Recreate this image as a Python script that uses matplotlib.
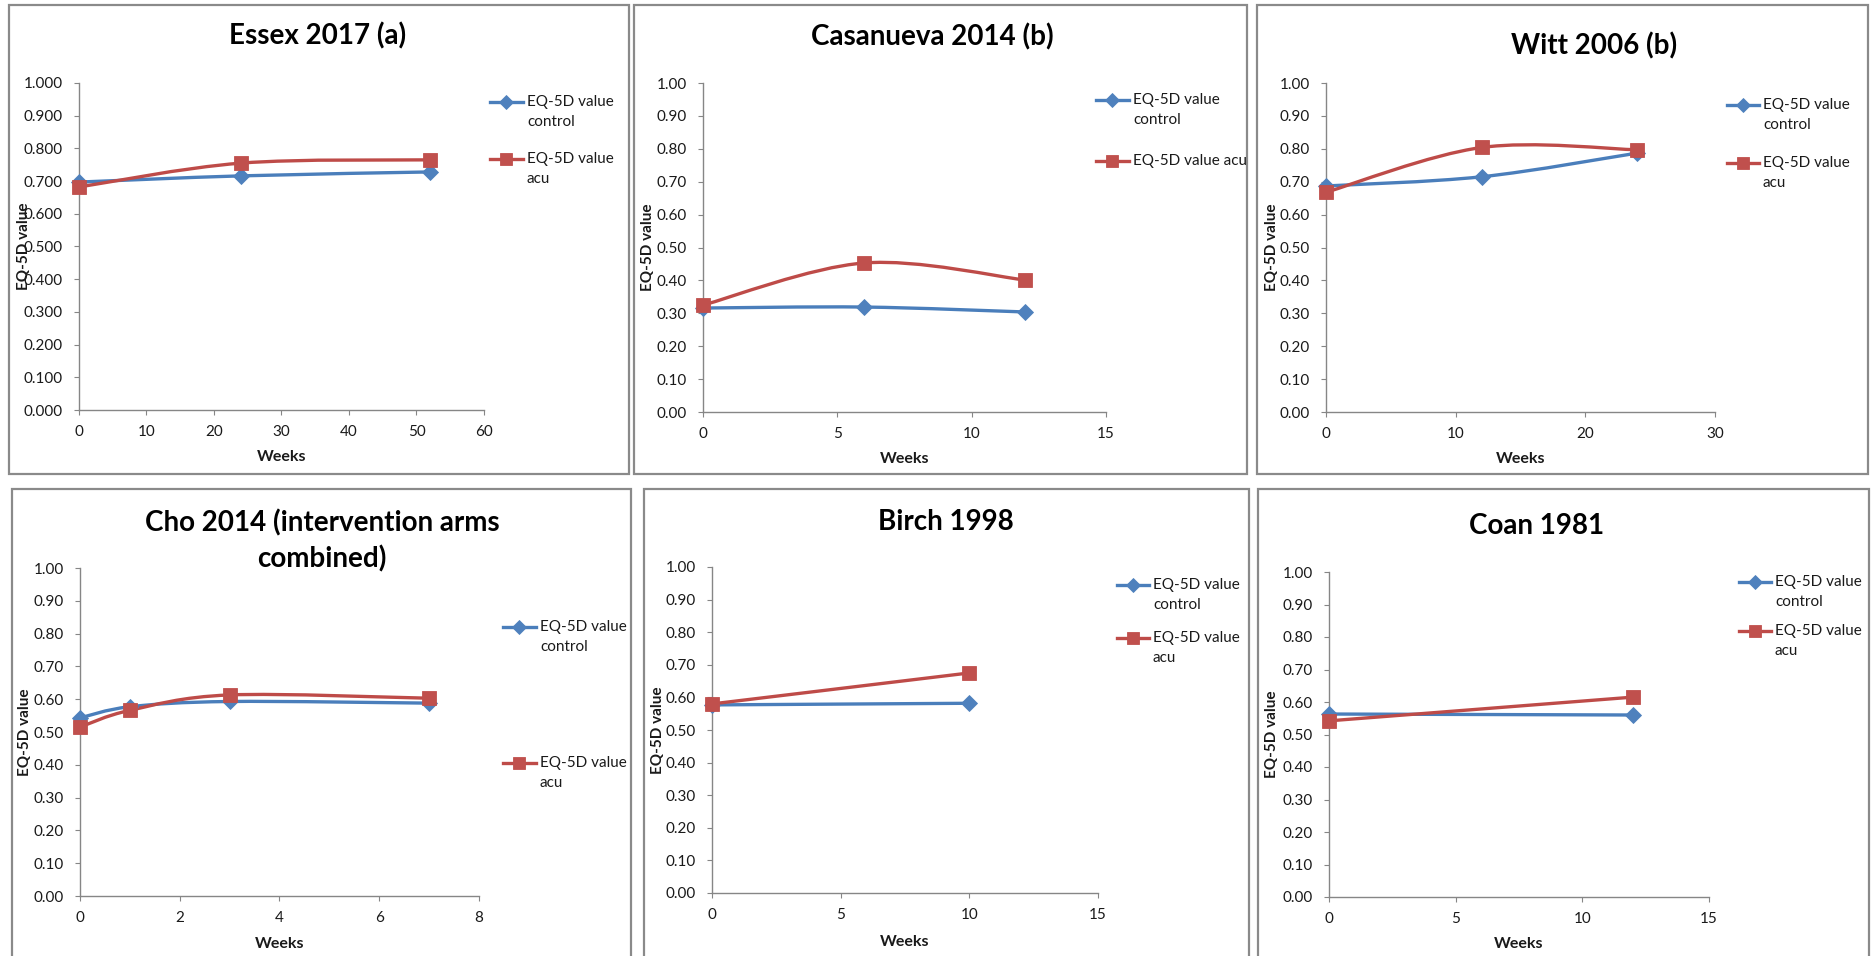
import numpy as np
import matplotlib
matplotlib.use("Agg")
import matplotlib.pyplot as plt
from matplotlib.path import Path
from matplotlib.patches import PathPatch, Rectangle
from matplotlib.lines import Line2D
from matplotlib.ticker import FormatStrFormatter, MultipleLocator

W, H = 1874, 956

# ---- study data (weeks from baseline, EQ-5D value) ----
essex_weeks = [0, 24, 52]
essex_control = [0.697, 0.716, 0.728]
essex_acu = [0.682, 0.755, 0.765]

casanueva_weeks = [0, 6, 12]
casanueva_control = [0.316, 0.319, 0.304]
casanueva_acu = [0.325, 0.453, 0.401]

witt_weeks = [0, 12, 24]
witt_control = [0.687, 0.715, 0.787]
witt_acu = [0.668, 0.804, 0.797]

cho_weeks = [0, 1, 3, 7]
cho_control = [0.543, 0.577, 0.593, 0.588]
cho_acu = [0.515, 0.566, 0.613, 0.603]

birch_weeks = [0, 10]
birch_control = [0.577, 0.582]
birch_acu = [0.580, 0.675]

coan_weeks = [0, 12]
coan_control = [0.563, 0.560]
coan_acu = [0.542, 0.615]

titles = ["Essex 2017 (a)", "Casanueva 2014 (b)", "Witt 2006 (b)",
          ["Cho 2014 (intervention arms", "combined)"], "Birch 1998", "Coan 1981"]
legend_control = ["EQ-5D value", "control"]
legend_acu = ["EQ-5D value", "acu"]
legend_acu_oneline = ["EQ-5D value acu"]
x_label = "Weeks"
y_label = "EQ-5D value"

plt.rcParams['font.family'] = ['Lato', 'DejaVu Sans']

BLUE_LINE, BLUE_MK = '#4A7EBB', '#4F81BD'
RED_LINE, RED_MK = '#BE4B48', '#C0504D'
AXIS_GRAY = '#868686'
BORDER = '#8a8a8a'
TXT = '#1a1a1a'


def fx(x):
    return x / W


def fy(y):
    return 1 - y / H


def smooth_path(xs, ys):
    """Cubic Bezier through the points (Catmull-Rom style tangents)."""
    pts = np.column_stack([xs, ys]).astype(float)
    n = len(pts)
    verts = [pts[0]]
    codes = [Path.MOVETO]
    for i in range(n - 1):
        p0 = pts[i - 1] if i > 0 else pts[i]
        p1, p2 = pts[i], pts[i + 1]
        p3 = pts[i + 2] if i + 2 < n else pts[i + 1]
        verts += [p1 + (p2 - p0) / 6, p2 - (p3 - p1) / 6, p2]
        codes += [Path.CURVE4] * 3
    return Path(verts, codes)


panels = [
    dict(title=titles[0], weeks=essex_weeks, control=essex_control, acu=essex_acu,
         xmax=60, xstep=10, yfmt='%.3f', frame=(9, 5, 629, 474), box=(79, 83, 484, 410),
         title_xy=(318, 36), ylab_x=24, xlab_y=457,
         legend=(490, 527, 102, 159), labels=(legend_control, legend_acu)),
    dict(title=titles[1], weeks=casanueva_weeks, control=casanueva_control, acu=casanueva_acu,
         xmax=15, xstep=5, yfmt='%.2f', frame=(634, 5, 1247, 474), box=(703, 83, 1106, 412),
         title_xy=(932, 37), ylab_x=648, xlab_y=459,
         legend=(1096, 1133, 100, 161), labels=(legend_control, legend_acu_oneline)),
    dict(title=titles[2], weeks=witt_weeks, control=witt_control, acu=witt_acu,
         xmax=30, xstep=10, yfmt='%.2f', frame=(1257, 5, 1868, 474), box=(1326, 83, 1715, 412),
         title_xy=(1594, 46), ylab_x=1272, xlab_y=459,
         legend=(1727, 1763, 105, 163), labels=(legend_control, legend_acu)),
    dict(title=titles[3], weeks=cho_weeks, control=cho_control, acu=cho_acu,
         xmax=8, xstep=2, yfmt='%.2f', frame=(12, 489, 631, 970), box=(80, 568, 479, 896),
         title_xy=(322, 523), ylab_x=25, xlab_y=944,
         legend=(503, 540, 627, 763), labels=(legend_control, legend_acu)),
    dict(title=titles[4], weeks=birch_weeks, control=birch_control, acu=birch_acu,
         xmax=15, xstep=5, yfmt='%.2f', frame=(644, 489, 1249, 970), box=(712, 567, 1098, 893),
         title_xy=(946, 522), ylab_x=658, xlab_y=942,
         legend=(1117, 1153, 585, 638), labels=(legend_control, legend_acu)),
    dict(title=titles[5], weeks=coan_weeks, control=coan_control, acu=coan_acu,
         xmax=15, xstep=5, yfmt='%.2f', frame=(1258, 489, 1869, 970), box=(1329, 572, 1709, 897),
         title_xy=(1537, 526), ylab_x=1272, xlab_y=944,
         legend=(1739, 1775, 582, 631), labels=(legend_control, legend_acu)),
]

fig = plt.figure(figsize=(W / 100, H / 100), dpi=100)
fig.patch.set_facecolor('white')

LW = 2.4
series_style = [
    dict(line=BLUE_LINE, mk=BLUE_MK, marker='D', ms=8.5),
    dict(line=RED_LINE, mk=RED_MK, marker='s', ms=10.0),
]

for p in panels:
    # chart frame
    x0, y0, x1, y1 = p['frame']
    fig.add_artist(Rectangle((fx(x0), fy(y1)), (x1 - x0) / W, (y1 - y0) / H,
                             fill=False, edgecolor=BORDER, lw=1.6))

    l, t, r, b = p['box']
    ax = fig.add_axes([fx(l), fy(b), (r - l) / W, (b - t) / H])
    ax.patch.set_alpha(0)
    ax.set_xlim(0, p['xmax'])
    ax.set_ylim(0, 1)
    ax.xaxis.set_major_locator(MultipleLocator(p['xstep']))
    ax.yaxis.set_major_locator(MultipleLocator(0.1))
    ax.yaxis.set_major_formatter(FormatStrFormatter(p['yfmt']))
    for s in ('top', 'right'):
        ax.spines[s].set_visible(False)
    for s in ('left', 'bottom'):
        ax.spines[s].set_color(AXIS_GRAY)
        ax.spines[s].set_linewidth(1.0)
    ax.tick_params(direction='out', length=3.6, width=0.8, color=AXIS_GRAY,
                   labelsize=11, labelcolor=TXT)
    ax.tick_params(axis='y', pad=8)
    ax.tick_params(axis='x', pad=7)

    # series: smooth line + markers
    for vals, st in zip((p['control'], p['acu']), series_style):
        patch = PathPatch(smooth_path(p['weeks'], vals), facecolor='none',
                          edgecolor=st['line'], lw=LW, joinstyle='round',
                          capstyle='round', clip_on=False, zorder=3)
        ax.add_patch(patch)
        ax.plot(p['weeks'], vals, linestyle='none', marker=st['marker'],
                ms=st['ms'], mfc=st['mk'], mec=st['mk'], mew=0.6,
                clip_on=False, zorder=4)

    # axis titles
    ax.set_xlabel(x_label, fontsize=11.5, fontweight='bold', color=TXT)
    ax.xaxis.set_label_coords(0.5, -(p['xlab_y'] - b) / (b - t))
    ax.xaxis.label.set_va('center')
    ax.set_ylabel(y_label, fontsize=11, fontweight='bold', color=TXT)
    ax.yaxis.set_label_coords((p['ylab_x'] - l) / (r - l), 0.5)
    ax.yaxis.label.set_va('center')

    # chart title
    tx, ty = p['title_xy']
    lines = p['title'] if isinstance(p['title'], list) else [p['title']]
    for k, line in enumerate(lines):
        fig.text(fx(tx), fy(ty + 36 * k), line, ha='center', va='center',
                 fontsize=20, fontweight='bold', color='black')

    # legend
    lx, ltx, ly1, ly2 = p['legend']
    for ly, lab, st in zip((ly1, ly2), p['labels'], series_style):
        xs = [fx(lx), fx((lx + ltx - 4) / 2), fx(ltx - 4)]
        fig.add_artist(Line2D(xs, [fy(ly)] * 3, color=st['line'], lw=LW,
                              marker=st['marker'], markevery=[1], ms=st['ms'] - 1,
                              mfc=st['mk'], mec=st['mk'], mew=0.6))
        for k, part in enumerate(lab):
            fig.text(fx(ltx), fy(ly + 20 * k), part, ha='left', va='center',
                     fontsize=11, color=TXT)

fig.savefig('out.png', dpi=100, facecolor='white')
